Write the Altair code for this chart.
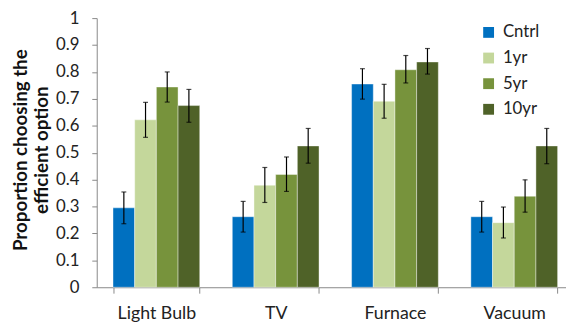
import altair as alt
import pandas as pd

categories = ["Light Bulb", "TV", "Furnace", "Vacuum"]
series = ["Cntrl", "1yr", "5yr", "10yr"]
colors = ["#0070C0", "#C4D79B", "#77933C", "#4F6228"]

values = {
    "Cntrl": [0.295, 0.262, 0.755, 0.262],
    "1yr": [0.622, 0.379, 0.691, 0.240],
    "5yr": [0.744, 0.419, 0.808, 0.338],
    "10yr": [0.675, 0.525, 0.837, 0.525],
}
err_lo = {
    "Cntrl": [0.236, 0.205, 0.699, 0.205],
    "1yr": [0.557, 0.315, 0.628, 0.183],
    "5yr": [0.688, 0.356, 0.759, 0.279],
    "10yr": [0.613, 0.461, 0.792, 0.459],
}
err_hi = {
    "Cntrl": [0.354, 0.319, 0.812, 0.319],
    "1yr": [0.687, 0.445, 0.754, 0.298],
    "5yr": [0.800, 0.484, 0.861, 0.399],
    "10yr": [0.735, 0.590, 0.887, 0.590],
}
y_ticks = [0, 0.1, 0.2, 0.3, 0.4, 0.5, 0.6, 0.7, 0.8, 0.9, 1]
y_title = ["Proportion choosing the", "efficient option"]

rows = []
for s in series:
    for i, c in enumerate(categories):
        rows.append({"cat": c, "series": s, "value": values[s][i],
                     "lo": err_lo[s][i], "hi": err_hi[s][i]})
df = pd.DataFrame(rows)

FONT = "Lato"
x_enc = alt.X("cat:N", sort=categories, title=None,
              scale=alt.Scale(range=[0, 484], paddingInner=0.273, paddingOuter=0.1365),
              axis=alt.Axis(labelAngle=0, tickBand="extent", labelFontSize=18,
                            labelPadding=12, tickSize=6, labelColor="#222222",
                            domainColor="#888888", tickColor="#888888"))
xo_enc = alt.XOffset("series:N", sort=series, scale=alt.Scale(paddingInner=0, paddingOuter=0))

y_scale = alt.Scale(domain=[0, 1], nice=False)
y_axis = alt.Axis(values=y_ticks, format=".1~f", grid=False, labelFontSize=17,
                  labelOverlap=False, tickCount=11,
                  labelColor="#222222", tickSize=5, labelPadding=13,
                  domainColor="#888888", tickColor="#888888", title=None)

base = alt.Chart(df)

bars = base.mark_bar(stroke="#ffffff", strokeWidth=0.8, strokeOpacity=0.5).encode(
    x=x_enc,
    xOffset=xo_enc,
    y=alt.Y("value:Q", scale=y_scale, axis=y_axis),
    color=alt.Color("series:N", sort=series,
                    scale=alt.Scale(domain=series, range=colors),
                    legend=alt.Legend(title=None, orient="none", legendX=389, legendY=6,
                                      symbolType="square", symbolSize=121,
                                      symbolStrokeWidth=0, labelFontSize=17,
                                      labelColor="#222222", rowPadding=8,
                                      labelOffset=6)),
)

rules = base.mark_rule(color="#000000", strokeWidth=1.2).encode(
    x=x_enc, xOffset=xo_enc,
    y=alt.Y("lo:Q", scale=y_scale, axis=y_axis), y2="hi:Q")
caps_lo = base.mark_tick(color="#000000", thickness=1.2, size=5, orient="horizontal").encode(
    x=x_enc, xOffset=xo_enc, y=alt.Y("lo:Q", scale=y_scale, axis=y_axis))
caps_hi = base.mark_tick(color="#000000", thickness=1.2, size=5, orient="horizontal").encode(
    x=x_enc, xOffset=xo_enc, y=alt.Y("hi:Q", scale=y_scale, axis=y_axis))

title_layers = []
for line, xpos in zip(y_title, [-71, -49]):
    title_layers.append(
        alt.Chart(pd.DataFrame({"t": [line]})).mark_text(
            angle=270, align="center", baseline="alphabetic", fontSize=19,
            fontWeight="bold", color="#111111", font=FONT
        ).encode(text="t:N", x=alt.value(xpos), y=alt.value(134))
    )

chart = alt.layer(bars, rules, caps_lo, caps_hi, *title_layers).properties(
    width=476, height=273,
    autosize=alt.AutoSizeParams(type="none"),
    padding={"left": 90, "top": 8, "right": 0, "bottom": 33},
).configure(font=FONT).configure_view(stroke=None)

chart.save("out.html", embed_options={"renderer": "svg", "actions": False})
